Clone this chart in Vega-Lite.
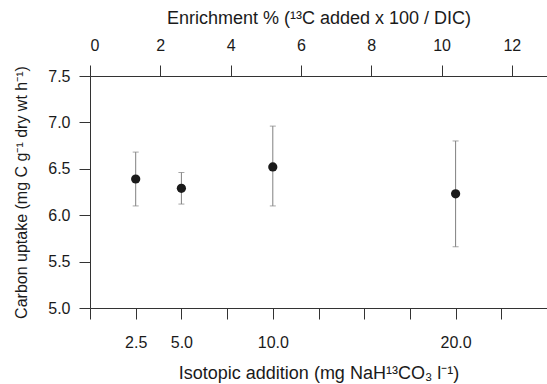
{
  "$schema": "https://vega.github.io/schema/vega-lite/v6.json",
  "autosize": "none",
  "width": 457,
  "height": 232,
  "padding": {"left": 90, "top": 76, "right": 0, "bottom": 76},
  "background": "white",
  "config": {
    "view": {"stroke": "#c8c8c8", "strokeWidth": 1},
    "font": "Liberation Sans",
    "axis": {
      "labelFont": "Liberation Sans",
      "titleFont": "Liberation Sans",
      "labelFontSize": 16,
      "titleFontSize": 16,
      "titleFontWeight": "normal",
      "labelColor": "#1a1a1a",
      "titleColor": "#1a1a1a",
      "domainColor": "#333",
      "tickColor": "#333",
      "tickSize": 11,
      "grid": false
    }
  },
  "data": {
    "values": [
      {"addition": 2.5, "enrichment": 1.3, "uptake": 6.39, "lo": 6.10, "hi": 6.68},
      {"addition": 5.0, "enrichment": 2.6, "uptake": 6.29, "lo": 6.12, "hi": 6.46},
      {"addition": 10.0, "enrichment": 5.2, "uptake": 6.52, "lo": 6.10, "hi": 6.96},
      {"addition": 20.0, "enrichment": 10.4, "uptake": 6.23, "lo": 5.66, "hi": 6.80}
    ]
  },
  "layer": [
    {
      "encoding": {
        "x": {
          "field": "addition",
          "type": "quantitative",
          "scale": {"domain": [0, 25], "nice": false, "zero": false},
          "axis": {
            "orient": "bottom",
            "title": "Isotopic addition (mg NaH¹³CO₃ l⁻¹)",
            "titleFontSize": 18,
            "values": [0, 2.5, 5, 7.5, 10, 12.5, 15, 17.5, 20, 22.5],
            "labelExpr": "indexof([2.5, 5, 10, 20], datum.value) >= 0 ? format(datum.value, '.1f') : ''",
            "labelPadding": 15,
            "titlePadding": 14
          }
        }
      },
      "layer": [
        {
          "mark": {"type": "rule", "color": "#808080", "strokeWidth": 1},
          "encoding": {
            "y": {
              "field": "lo",
              "type": "quantitative",
              "scale": {"domain": [5, 7.5], "nice": false, "zero": false},
              "axis": {
                "title": "Carbon uptake (mg C g⁻¹ dry wt h⁻¹)",
                "values": [5, 5.5, 6, 6.5, 7, 7.5],
                "format": ".1f",
                "labelPadding": 9,
                "titlePadding": 18
              }
            },
            "y2": {"field": "hi"}
          }
        },
        {
          "mark": {"type": "tick", "orient": "horizontal", "color": "#808080", "size": 6, "thickness": 1},
          "encoding": {"y": {"field": "lo", "type": "quantitative"}}
        },
        {
          "mark": {"type": "tick", "orient": "horizontal", "color": "#808080", "size": 6, "thickness": 1},
          "encoding": {"y": {"field": "hi", "type": "quantitative"}}
        },
        {
          "mark": {"type": "point", "filled": true, "color": "#1a1a1a", "size": 85, "opacity": 1},
          "encoding": {"y": {"field": "uptake", "type": "quantitative"}}
        }
      ]
    },
    {
      "mark": {"type": "point", "opacity": 0},
      "encoding": {
        "x": {
          "field": "enrichment",
          "type": "quantitative",
          "scale": {"domain": [0, 13], "nice": false, "zero": false},
          "axis": {
            "orient": "top",
            "title": "Enrichment % (¹³C added x 100 / DIC)",
            "titleFontSize": 18,
            "values": [0, 2, 4, 6, 8, 10, 12],
            "labelPadding": 12,
            "titlePadding": 10
          }
        },
        "y": {"field": "uptake", "type": "quantitative"}
      }
    }
  ],
  "resolve": {"scale": {"x": "independent"}, "axis": {"x": "independent"}}
}
